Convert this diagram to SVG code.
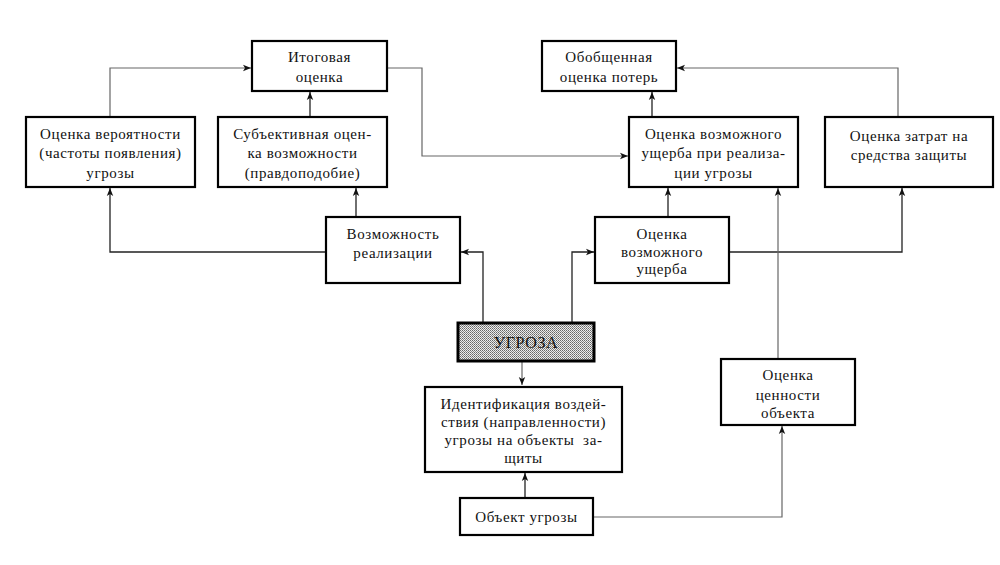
<svg xmlns="http://www.w3.org/2000/svg" width="1000" height="565" viewBox="0 0 1000 565">
<style>
.box{fill:#fff;stroke:#000;stroke-width:2.2}
.t{font-family:'Liberation Serif','Times New Roman',serif;font-size:15px;fill:#111;text-anchor:middle;letter-spacing:0.6px}
.c{fill:none;stroke:#222;stroke-width:1.3}
.g{fill:none;stroke:#666;stroke-width:1.2}
</style>
<defs>
<marker id="ar" viewBox="0 0 8 8" refX="8" refY="4" markerWidth="8" markerHeight="8" markerUnits="userSpaceOnUse" orient="auto">
<path d="M0,0.8 L8,4 L0,7.2 L2,4 Z" fill="#111"/>
</marker>
<pattern id="dots" width="2" height="2" patternUnits="userSpaceOnUse">
<rect width="2" height="2" fill="#ececec"/>
<rect width="1" height="1" fill="#666"/>
<rect x="1" y="1" width="1" height="1" fill="#888"/>
</pattern>
</defs>
<rect width="1000" height="565" fill="#fff"/>

<g id="connectors">
<polyline class="g" points="110,117 110,68 251,68" marker-end="url(#ar)"/>
<polyline class="c" points="310,117 310,92" marker-end="url(#ar)"/>
<polyline class="c" points="356,217 356,188" marker-end="url(#ar)"/>
<polyline class="c" points="326,252 110,252 110,188" marker-end="url(#ar)"/>
<polyline class="c" points="483,323 483,252 461,252" marker-end="url(#ar)"/>
<polyline class="g" points="387,68 422,68 422,156 628,156" marker-end="url(#ar)"/>
<polyline class="c" points="652,117 652,92" marker-end="url(#ar)"/>
<polyline class="g" points="898,117 898,68 677,68" marker-end="url(#ar)"/>
<polyline class="c" points="668,217 668,188" marker-end="url(#ar)"/>
<polyline class="c" points="729,252 902,252 902,188" marker-end="url(#ar)"/>
<polyline class="c" points="572,323 572,252 594,252" marker-end="url(#ar)"/>
<polyline class="g" points="778,359 778,188" marker-end="url(#ar)"/>
<polyline class="g" points="522,361 522,385" marker-end="url(#ar)"/>
<polyline class="c" points="525,498 525,473" marker-end="url(#ar)"/>
<polyline class="g" points="593,517 782,517 782,426" marker-end="url(#ar)"/>
</g>

<g font-family="Liberation Serif, Times New Roman, serif">
<g id="itog">
<rect class="box" x="252" y="41" width="135" height="50"/>
<text class="t" x="319.5" y="62">Итоговая</text>
<text class="t" x="319.5" y="82">оценка</text>
</g>

<g id="veroyat">
<rect class="box" x="26" y="117" width="169" height="70"/>
<text class="t" x="110.5" y="139">Оценка вероятности</text>
<text class="t" x="110.5" y="158">(частоты появления)</text>
<text class="t" x="110.5" y="178">угрозы</text>
</g>

<g id="subj">
<rect class="box" x="218" y="117" width="169" height="70"/>
<text class="t" x="302.5" y="139">Субъективная оцен-</text>
<text class="t" x="302.5" y="158">ка возможности</text>
<text class="t" x="302.5" y="178">(правдоподобие)</text>
</g>

<g id="vozm">
<rect class="box" x="326" y="217" width="134" height="66"/>
<text class="t" x="393" y="239">Возможность</text>
<text class="t" x="393" y="258">реализации</text>
</g>

<g id="obobsh">
<rect class="box" x="542" y="41" width="134" height="50"/>
<text class="t" x="609" y="62">Обобщенная</text>
<text class="t" x="609" y="82">оценка потерь</text>
</g>

<g id="usherb-real">
<rect class="box" x="629" y="117" width="169" height="70"/>
<text class="t" x="713.5" y="139">Оценка возможного</text>
<text class="t" x="713.5" y="158">ущерба при реализа-</text>
<text class="t" x="713.5" y="178">ции угрозы</text>
</g>

<g id="zatraty">
<rect class="box" x="825" y="117" width="168" height="70"/>
<text class="t" x="909" y="141">Оценка затрат на</text>
<text class="t" x="909" y="160">средства защиты</text>
</g>

<g id="usherb">
<rect class="box" x="595" y="217" width="134" height="66"/>
<text class="t" x="662" y="239">Оценка</text>
<text class="t" x="662" y="257">возможного</text>
<text class="t" x="662" y="274">ущерба</text>
</g>

<g id="ugroza">
<rect x="458" y="323" width="136" height="38" fill="url(#dots)" stroke="#000" stroke-width="3"/>
<text class="t" x="526" y="348" style="font-size:16px">УГРОЗА</text>
</g>

<g id="ident">
<rect class="box" x="425" y="387" width="197" height="85"/>
<text class="t" x="523.5" y="409">Идентификация воздей-</text>
<text class="t" x="523.5" y="427">ствия (направленности)</text>
<text class="t" x="523.5" y="445" xml:space="preserve">угрозы на объекты  за-</text>
<text class="t" x="523.5" y="463">щиты</text>
</g>

<g id="obyekt">
<rect class="box" x="460" y="498" width="133" height="37"/>
<text class="t" x="526.5" y="522">Объект угрозы</text>
</g>

<g id="cennost">
<rect class="box" x="721" y="359" width="134" height="66"/>
<text class="t" x="788" y="380">Оценка</text>
<text class="t" x="788" y="400">ценности</text>
<text class="t" x="788" y="418">объекта</text>
</g>
</g>
</svg>
